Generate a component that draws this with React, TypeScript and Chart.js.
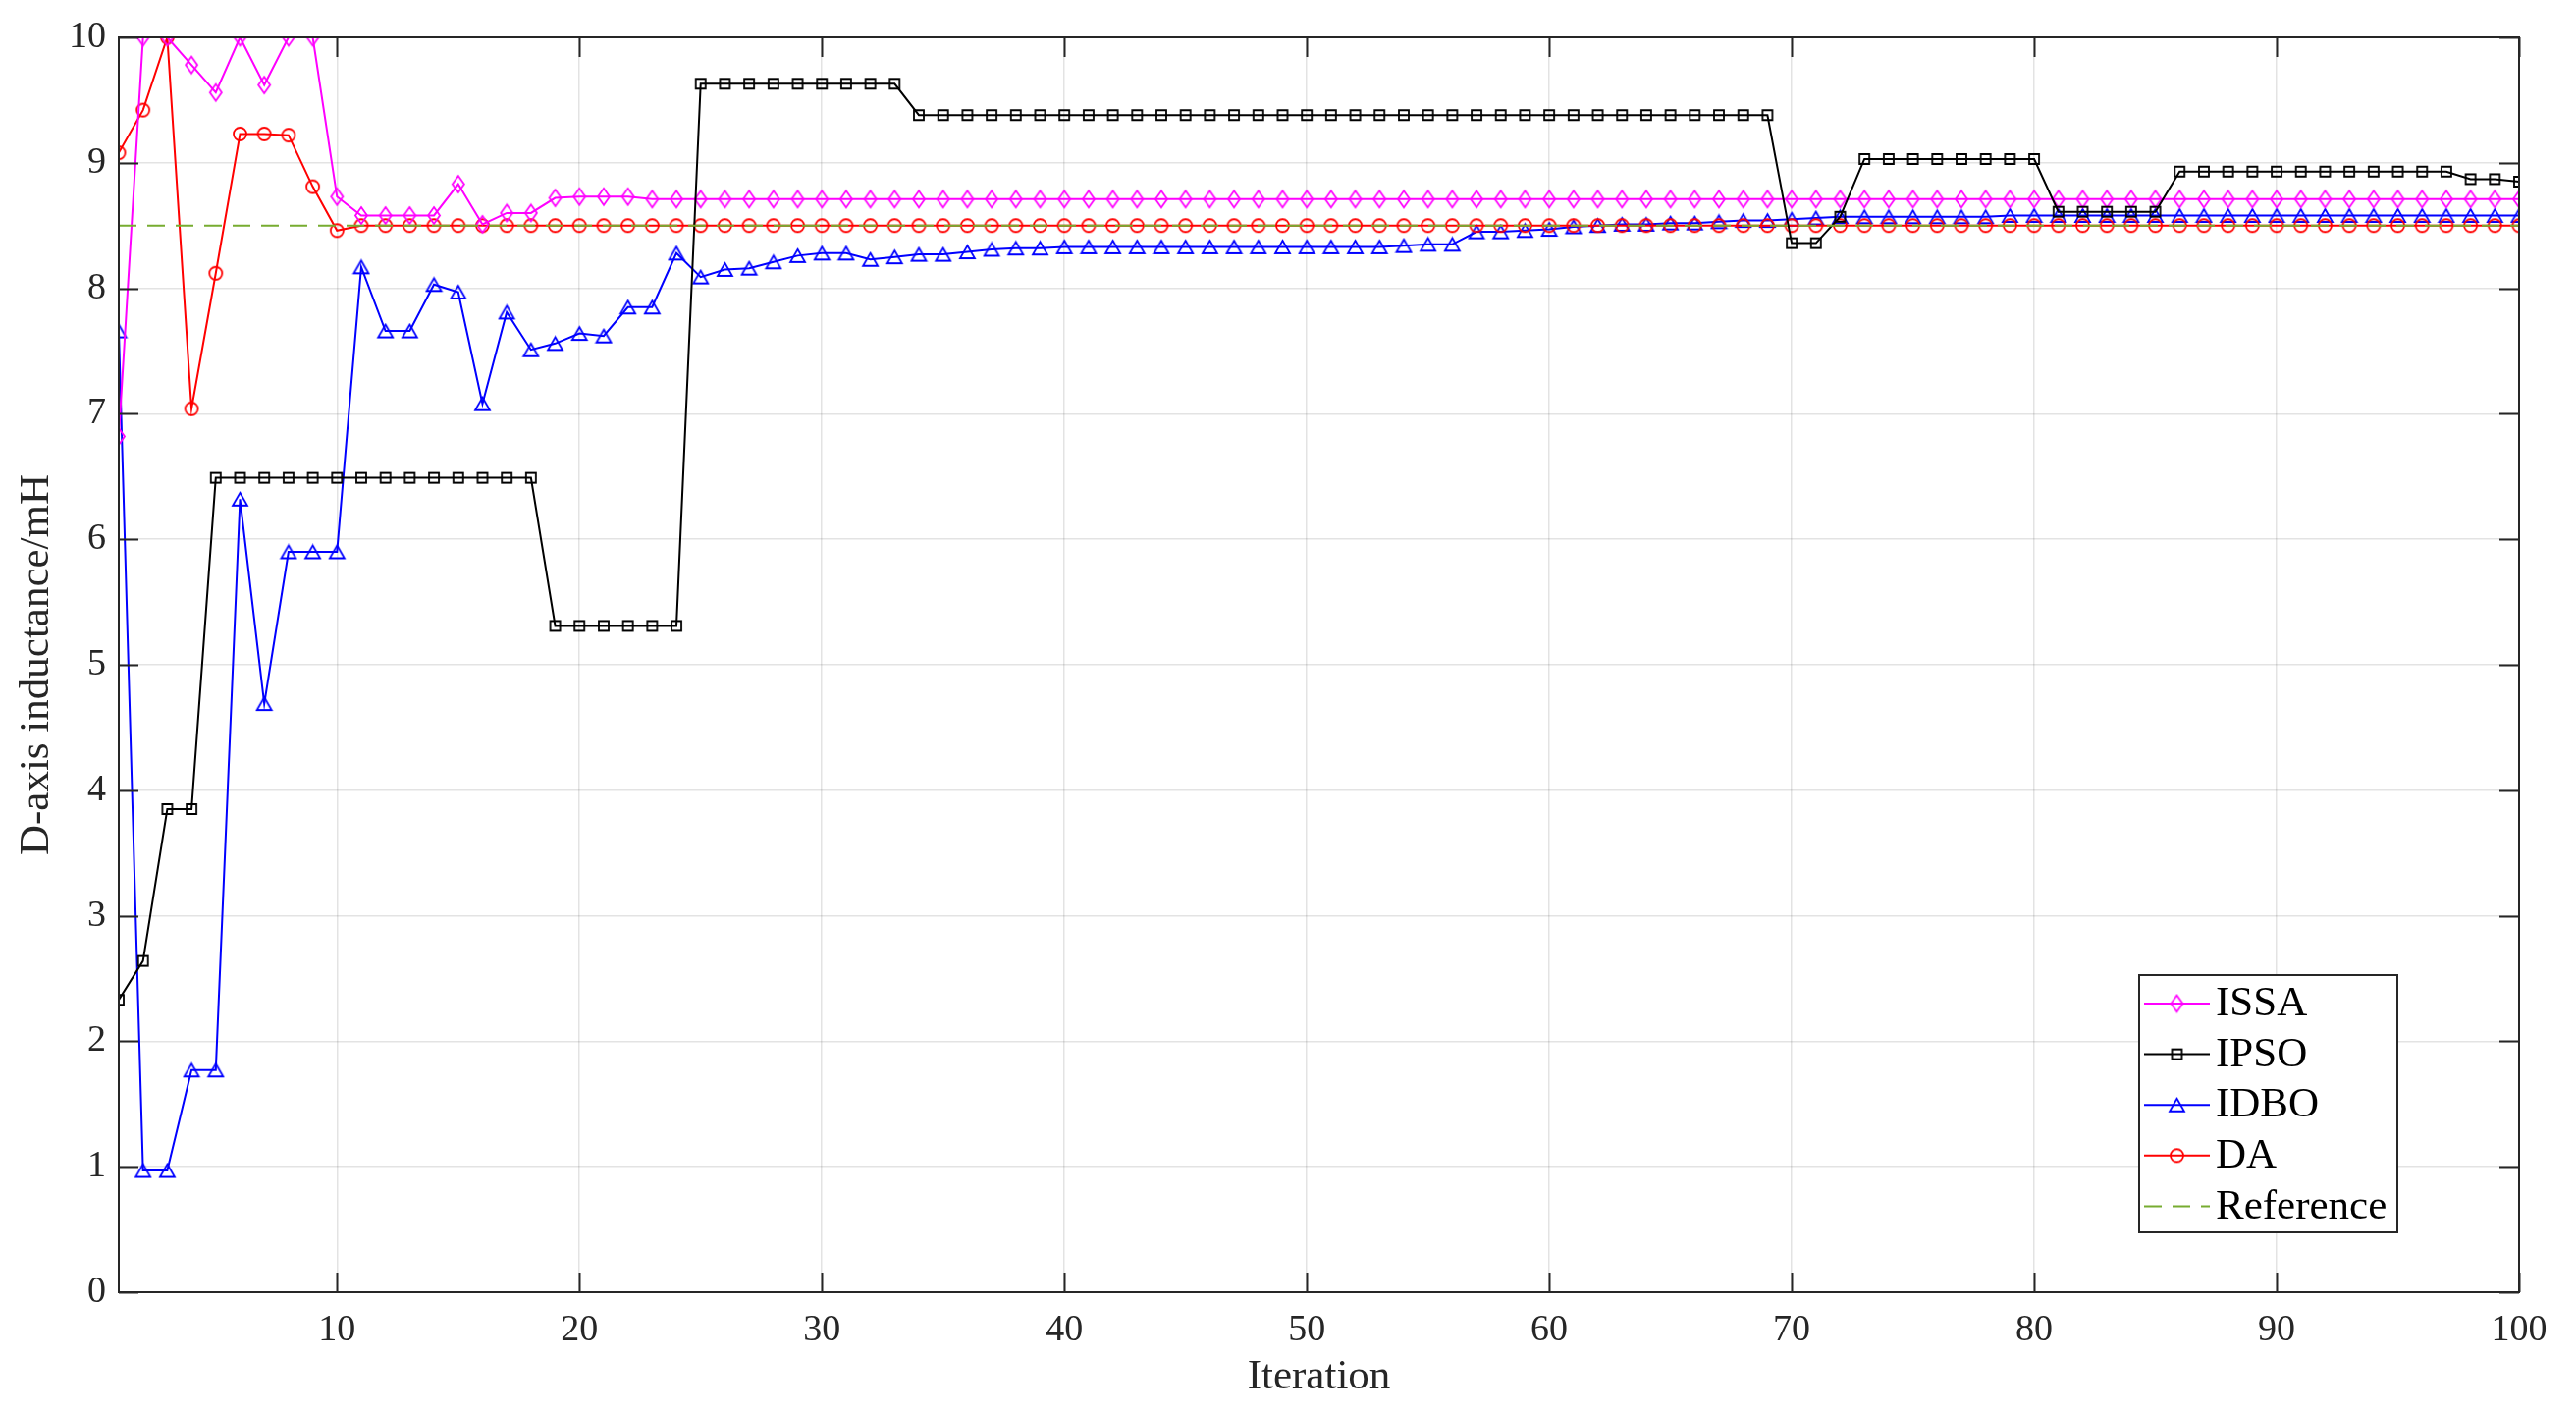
import React, { useEffect, useRef } from "react";
import { Chart, registerables } from "chart.js";

Chart.register(...registerables);

const iterations = [
  1, 2, 3, 4, 5, 6, 7, 8, 9, 10, 11, 12, 13, 14, 15, 16, 17, 18, 19, 20,
  21, 22, 23, 24, 25, 26, 27, 28, 29, 30, 31, 32, 33, 34, 35, 36, 37, 38, 39, 40,
  41, 42, 43, 44, 45, 46, 47, 48, 49, 50, 51, 52, 53, 54, 55, 56, 57, 58, 59, 60,
  61, 62, 63, 64, 65, 66, 67, 68, 69, 70, 71, 72, 73, 74, 75, 76, 77, 78, 79, 80,
  81, 82, 83, 84, 85, 86, 87, 88, 89, 90, 91, 92, 93, 94, 95, 96, 97, 98, 99, 100,
];

const issaValues = [
  6.82, 10, 10, 9.78, 9.56, 10, 9.62, 10, 10, 8.73, 8.58, 8.58, 8.58, 8.58, 8.83, 8.51, 8.6, 8.6, 8.72, 8.73,
  8.73, 8.73, 8.71, 8.71, 8.71, 8.71, 8.71, 8.71, 8.71, 8.71, 8.71, 8.71, 8.71, 8.71, 8.71, 8.71, 8.71, 8.71, 8.71, 8.71,
  8.71, 8.71, 8.71, 8.71, 8.71, 8.71, 8.71, 8.71, 8.71, 8.71, 8.71, 8.71, 8.71, 8.71, 8.71, 8.71, 8.71, 8.71, 8.71, 8.71,
  8.71, 8.71, 8.71, 8.71, 8.71, 8.71, 8.71, 8.71, 8.71, 8.71, 8.71, 8.71, 8.71, 8.71, 8.71, 8.71, 8.71, 8.71, 8.71, 8.71,
  8.71, 8.71, 8.71, 8.71, 8.71, 8.71, 8.71, 8.71, 8.71, 8.71, 8.71, 8.71, 8.71, 8.71, 8.71, 8.71, 8.71, 8.71, 8.71, 8.71,
];

const ipsoValues = [
  2.33, 2.64, 3.85, 3.85, 6.49, 6.49, 6.49, 6.49, 6.49, 6.49, 6.49, 6.49, 6.49, 6.49, 6.49, 6.49, 6.49, 6.49, 5.31, 5.31,
  5.31, 5.31, 5.31, 5.31, 9.63, 9.63, 9.63, 9.63, 9.63, 9.63, 9.63, 9.63, 9.63, 9.38, 9.38, 9.38, 9.38, 9.38, 9.38, 9.38,
  9.38, 9.38, 9.38, 9.38, 9.38, 9.38, 9.38, 9.38, 9.38, 9.38, 9.38, 9.38, 9.38, 9.38, 9.38, 9.38, 9.38, 9.38, 9.38, 9.38,
  9.38, 9.38, 9.38, 9.38, 9.38, 9.38, 9.38, 9.38, 9.38, 8.36, 8.36, 8.57, 9.03, 9.03, 9.03, 9.03, 9.03, 9.03, 9.03, 9.03,
  8.61, 8.61, 8.61, 8.61, 8.61, 8.93, 8.93, 8.93, 8.93, 8.93, 8.93, 8.93, 8.93, 8.93, 8.93, 8.93, 8.93, 8.87, 8.87, 8.85,
];

const idboValues = [
  7.66, 0.97, 0.97, 1.77, 1.77, 6.32, 4.69, 5.9, 5.9, 5.9, 8.17, 7.66, 7.66, 8.03, 7.97, 7.08, 7.81, 7.51, 7.56, 7.64,
  7.62, 7.85, 7.85, 8.28, 8.09, 8.15, 8.16, 8.21, 8.26, 8.28, 8.28, 8.23, 8.25, 8.27, 8.27, 8.29, 8.31, 8.32, 8.32, 8.33,
  8.33, 8.33, 8.33, 8.33, 8.33, 8.33, 8.33, 8.33, 8.33, 8.33, 8.33, 8.33, 8.33, 8.34, 8.35, 8.35, 8.45, 8.45, 8.46, 8.47,
  8.49, 8.5, 8.51, 8.51, 8.52, 8.52, 8.53, 8.54, 8.54, 8.55, 8.56, 8.57, 8.57, 8.57, 8.57, 8.57, 8.57, 8.57, 8.58, 8.58,
  8.58, 8.58, 8.58, 8.58, 8.58, 8.58, 8.58, 8.58, 8.58, 8.58, 8.58, 8.58, 8.58, 8.58, 8.58, 8.58, 8.58, 8.58, 8.58, 8.58,
];

const daValues = [
  9.08, 9.42, 10, 7.04, 8.12, 9.23, 9.23, 9.22, 8.81, 8.46, 8.5, 8.5, 8.5, 8.5, 8.5, 8.5, 8.5, 8.5, 8.5, 8.5,
  8.5, 8.5, 8.5, 8.5, 8.5, 8.5, 8.5, 8.5, 8.5, 8.5, 8.5, 8.5, 8.5, 8.5, 8.5, 8.5, 8.5, 8.5, 8.5, 8.5,
  8.5, 8.5, 8.5, 8.5, 8.5, 8.5, 8.5, 8.5, 8.5, 8.5, 8.5, 8.5, 8.5, 8.5, 8.5, 8.5, 8.5, 8.5, 8.5, 8.5,
  8.5, 8.5, 8.5, 8.5, 8.5, 8.5, 8.5, 8.5, 8.5, 8.5, 8.5, 8.5, 8.5, 8.5, 8.5, 8.5, 8.5, 8.5, 8.5, 8.5,
  8.5, 8.5, 8.5, 8.5, 8.5, 8.5, 8.5, 8.5, 8.5, 8.5, 8.5, 8.5, 8.5, 8.5, 8.5, 8.5, 8.5, 8.5, 8.5, 8.5,
];

const referenceX = [1, 100];
const referenceValues = [8.5, 8.5];

const seriesNames = ["ISSA", "IPSO", "IDBO", "DA", "Reference"];
const xTickValues = [10, 20, 30, 40, 50, 60, 70, 80, 90, 100];
const yTickValues = [0, 1, 2, 3, 4, 5, 6, 7, 8, 9, 10];
const xAxisTitle = "Iteration";
const yAxisTitle = "D-axis inductance/mH";

const FONT_FAMILY = "'Liberation Serif', 'Times New Roman', serif";
const AXIS_COLOR = "#262626";

function makeMarker(kind: string, color: string): HTMLCanvasElement {
  const c = document.createElement("canvas");
  const lw = 1.8;
  let w = 0;
  let h = 0;
  if (kind === "diamond") { w = 16; h = 21; }
  else if (kind === "square") { w = 14; h = 14; }
  else if (kind === "triangle") { w = 19; h = 17; }
  else { w = 17; h = 17; }
  c.width = w;
  c.height = h;
  const ctx = c.getContext("2d")!;
  ctx.strokeStyle = color;
  ctx.lineWidth = lw;
  ctx.beginPath();
  if (kind === "diamond") {
    ctx.moveTo(8, 2);
    ctx.lineTo(14, 10.5);
    ctx.lineTo(8, 19);
    ctx.lineTo(2, 10.5);
    ctx.closePath();
  } else if (kind === "square") {
    ctx.rect(2, 2, 10, 10);
  } else if (kind === "triangle") {
    ctx.moveTo(9.5, 2);
    ctx.lineTo(17, 15);
    ctx.lineTo(2, 15);
    ctx.closePath();
  } else {
    ctx.arc(8.5, 8.5, 6.5, 0, Math.PI * 2);
  }
  ctx.stroke();
  return c;
}

function toPoints(xs: number[], ys: number[]) {
  return xs.map((x, i) => ({ x, y: ys[i] }));
}

export default function App() {
  const canvasRef = useRef<HTMLCanvasElement | null>(null);

  useEffect(() => {
    document.body.style.margin = "0";
    const canvas = canvasRef.current;
    if (!canvas) return;

    const markers = [
      makeMarker("diamond", "#FF00FF"),
      makeMarker("square", "#000000"),
      makeMarker("triangle", "#0000FF"),
      makeMarker("circle", "#FF0000"),
      null,
    ];
    const colors = ["#FF00FF", "#000000", "#0000FF", "#FF0000", "#77AC30"];

    const boxPlugin = {
      id: "matlabBox",
      afterDatasetsDraw(chart: any) {
        const { ctx, chartArea } = chart;
        const xs = chart.scales.x;
        const ys = chart.scales.y;
        const tl = 20;
        ctx.save();
        ctx.strokeStyle = AXIS_COLOR;
        ctx.lineWidth = 2;
        ctx.beginPath();
        xTickValues.forEach((v) => {
          const px = Math.round(xs.getPixelForValue(v)) + 0.5;
          ctx.moveTo(px, chartArea.bottom);
          ctx.lineTo(px, chartArea.bottom - tl);
          ctx.moveTo(px, chartArea.top);
          ctx.lineTo(px, chartArea.top + tl);
        });
        yTickValues.forEach((v) => {
          const py = Math.round(ys.getPixelForValue(v)) + 0.5;
          ctx.moveTo(chartArea.left, py);
          ctx.lineTo(chartArea.left + tl, py);
          ctx.moveTo(chartArea.right, py);
          ctx.lineTo(chartArea.right - tl, py);
        });
        ctx.stroke();
        ctx.strokeRect(chartArea.left, chartArea.top, chartArea.right - chartArea.left, chartArea.bottom - chartArea.top);
        ctx.restore();
      },
    };

    const legendPlugin = {
      id: "matlabLegend",
      afterDraw(chart: any) {
        const { ctx } = chart;
        const bx = 2179;
        const by = 993;
        const bw = 263;
        const bh = 262;
        const rowH = 51.6;
        const firstY = 1022;
        ctx.save();
        ctx.fillStyle = "#ffffff";
        ctx.fillRect(bx, by, bw, bh);
        ctx.strokeStyle = AXIS_COLOR;
        ctx.lineWidth = 2;
        ctx.strokeRect(bx, by, bw, bh);
        chart.data.datasets.forEach((ds: any, i: number) => {
          const cy = firstY + i * rowH;
          ctx.beginPath();
          ctx.strokeStyle = ds.borderColor;
          ctx.lineWidth = 2;
          ctx.setLineDash(ds.borderDash || []);
          ctx.moveTo(2184, cy);
          ctx.lineTo(2251, cy);
          ctx.stroke();
          ctx.setLineDash([]);
          const m = markers[i];
          if (m) ctx.drawImage(m, 2217.5 - m.width / 2, cy - m.height / 2);
          ctx.fillStyle = "#000000";
          ctx.font = `43px ${FONT_FAMILY}`;
          ctx.textBaseline = "middle";
          ctx.textAlign = "left";
          ctx.fillText(ds.label, 2257, cy + 1);
        });
        ctx.restore();
      },
    };

    const valueSets = [issaValues, ipsoValues, idboValues, daValues];
    const orders = [2, 1, 4, 3];
    const datasets: any[] = valueSets.map((vals, i) => ({
      label: seriesNames[i],
      data: toPoints(iterations, vals),
      borderColor: colors[i],
      backgroundColor: "transparent",
      borderWidth: 2,
      pointStyle: markers[i],
      pointRadius: 7,
      pointHoverRadius: 7,
      tension: 0,
      fill: false,
      order: orders[i],
    }));
    datasets.push({
      label: seriesNames[4],
      data: toPoints(referenceX, referenceValues),
      borderColor: colors[4],
      backgroundColor: "transparent",
      borderWidth: 2,
      borderDash: [18, 11],
      pointRadius: 0,
      tension: 0,
      fill: false,
      order: 0,
    });

    const tickFont = { family: FONT_FAMILY, size: 38 };
    const titleFont = { family: FONT_FAMILY, size: 43 };
    const gridColor = "rgba(38,38,38,0.13)";

    const chart = new Chart(canvas, {
      type: "line",
      data: { datasets },
      options: {
        animation: false,
        responsive: false,
        devicePixelRatio: 1,
        layout: { padding: { left: 0, top: 38, right: 58, bottom: 0 } },
        plugins: {
          legend: { display: false },
          tooltip: { enabled: false },
        },
        scales: {
          x: {
            type: "linear",
            min: 1,
            max: 100,
            afterBuildTicks: (s: any) => {
              s.ticks = xTickValues.map((v) => ({ value: v }));
            },
            afterFit: (s: any) => {
              s.height = 124;
            },
            ticks: {
              font: tickFont,
              color: AXIS_COLOR,
              padding: 16,
              maxRotation: 0,
              autoSkip: false,
            },
            grid: { drawTicks: false, color: gridColor, lineWidth: 1.5 },
            border: { display: false },
            title: {
              display: true,
              text: xAxisTitle,
              font: titleFont,
              color: AXIS_COLOR,
              padding: { top: 0, bottom: 11 },
            },
          },
          y: {
            type: "linear",
            min: 0,
            max: 10,
            afterBuildTicks: (s: any) => {
              s.ticks = yTickValues.map((v) => ({ value: v }));
            },
            afterFit: (s: any) => {
              s.width = 121;
            },
            ticks: {
              font: tickFont,
              color: AXIS_COLOR,
              padding: 13,
              autoSkip: false,
            },
            grid: { drawTicks: false, color: gridColor, lineWidth: 1.5 },
            border: { display: false },
            title: {
              display: true,
              text: yAxisTitle,
              font: titleFont,
              color: AXIS_COLOR,
              padding: { top: 12, bottom: 0 },
            },
          },
        },
      } as any,
      plugins: [boxPlugin, legendPlugin],
    });

    return () => {
      chart.destroy();
    };
  }, []);

  return (
    <div style={{ width: 2624, height: 1440, background: "#ffffff" }}>
      <canvas ref={canvasRef} width={2624} height={1440} style={{ display: "block" }} />
    </div>
  );
}
